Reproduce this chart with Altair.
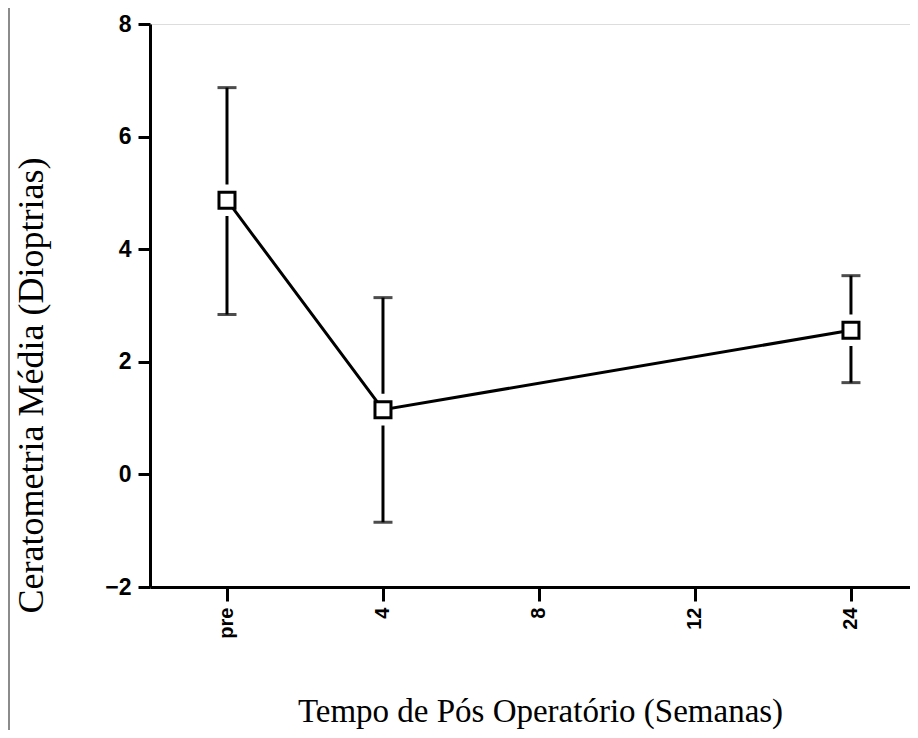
import altair as alt
import pandas as pd

# ---- data ----
categories = ["pre", "4", "8", "12", "24"]
point_weeks = ["pre", "4", "24"]
means = [4.87, 1.15, 2.56]
upper = [6.87, 3.14, 3.53]
lower = [2.84, -0.85, 1.63]
y_ticks = [-2, 0, 2, 4, 6, 8]

df = pd.DataFrame({"semana": point_weeks, "media": means, "sup": upper, "inf": lower})

x_scale = alt.Scale(type="point", domain=categories, padding=0.436, align=0.566)
y_scale = alt.Scale(domain=[-2, 8], nice=False, zero=False)

X_TITLE = "Tempo de Pós Operatório (Semanas)"
Y_TITLE = "Ceratometria Média (Dioptrias)"
y_axis = alt.Axis(values=y_ticks, format="d", labelFontSize=23)
x_axis = alt.Axis(labelFontSize=20)

x_enc = alt.X("semana:N", sort=categories, scale=x_scale, title=X_TITLE, axis=x_axis)

base = alt.Chart(df)

bars = base.mark_rule(color="black", strokeWidth=3).encode(
    x=x_enc, y=alt.Y("inf:Q", scale=y_scale, title=Y_TITLE, axis=y_axis), y2="sup:Q"
)

caps_top = base.mark_tick(color="black", thickness=3, size=19, orient="horizontal").encode(
    x=x_enc, y=alt.Y("sup:Q", scale=y_scale, title=Y_TITLE, axis=y_axis)
)
caps_bot = base.mark_tick(color="black", thickness=3, size=19, orient="horizontal").encode(
    x=x_enc, y=alt.Y("inf:Q", scale=y_scale, title=Y_TITLE, axis=y_axis)
)

y_mean = alt.Y("media:Q", scale=y_scale, title=Y_TITLE, axis=y_axis)

halo = base.mark_point(shape="square", filled=True, color="white", opacity=1, size=1000).encode(
    x=x_enc, y=y_mean
)

line = base.mark_line(color="black", strokeWidth=3).encode(x=x_enc, y=y_mean)

squares = base.mark_point(
    shape="square", filled=True, fill="white", stroke="black", strokeWidth=3, opacity=1, size=256
).encode(x=x_enc, y=y_mean)

frame = alt.Chart(pd.DataFrame({"k": [0]})).mark_rect(
    fill=None, stroke="#666666", strokeWidth=1.5, clip=False
).encode(
    x=alt.value(-141), x2=alt.value(1200), y=alt.value(-19), y2=alt.value(1200)
)

chart = (
    alt.layer(frame, bars, caps_top, caps_bot, halo, line, squares)
    .properties(
        width=760,
        height=563,
        autosize=alt.AutoSizeParams(type="none"),
        padding={"left": 142, "top": 16, "right": 0, "bottom": 143},
    )
    .configure_view(stroke=None)
    .configure(background="white")
    .configure_axis(
        grid=False,
        domainColor="black",
        domainWidth=3,
        tickColor="black",
        tickWidth=3,
        labelColor="black",
        labelFont="Liberation Sans",
        labelFontWeight="bold",
        titleColor="black",
        titleFont="Liberation Serif",
        titleFontWeight="normal",
    )
    .configure_axisY(
        labelPadding=7,
        tickSize=12,
        titleFontSize=36,
        titleX=-108,
        titleY=361,
        titleAngle=270,
        titleAlign="center",
        titleBaseline="alphabetic",
    )
    .configure_axisX(
        labelAngle=-90,
        labelPadding=6,
        tickSize=14,
        titleFontSize=33,
        titleX=390,
        titleY=134,
        titleBaseline="alphabetic",
    )
)

chart.save("out.html", embed_options={"renderer": "svg", "actions": False})
